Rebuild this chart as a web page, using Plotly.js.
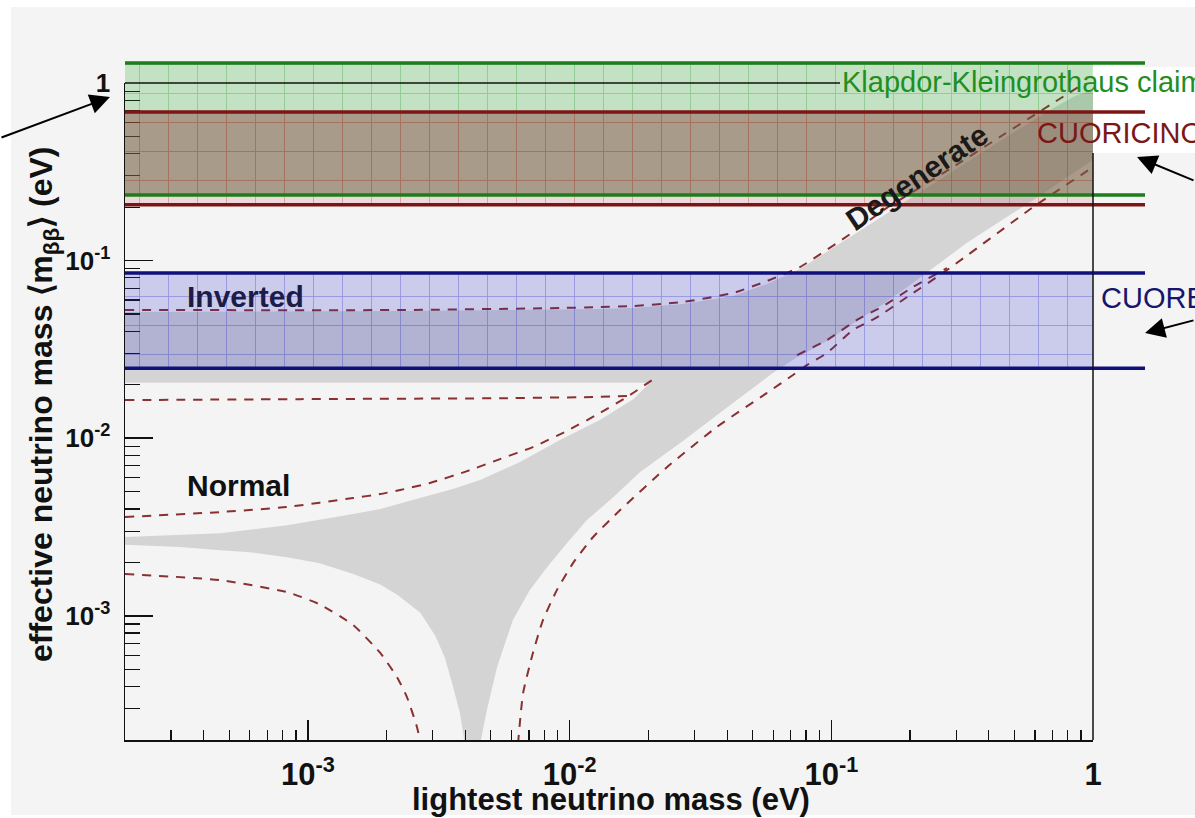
<!DOCTYPE html>
<html>
<head>
<meta charset="utf-8">
<script src="https://cdn.plot.ly/plotly-3.0.1.min.js"></script>
<style>
  html, body { margin: 0; padding: 0; background: #ffffff; }
  #chart { width: 1195px; height: 818px; }
</style>
</head>
<body>
<div id="chart"></div>
<script>
// ---------------- data (eV) ----------------
const X_MIN = 2e-4, X_MAX = 1;
const Y_MIN = 2e-4, Y_MAX = 1;

// axis ticks
const xTickVals = [1e-3, 1e-2, 1e-1, 1];
const xTickText = ['10<sup>-3</sup>', '10<sup>-2</sup>', '10<sup>-1</sup>', '1'];
const yTickVals = [1e-3, 1e-2, 1e-1, 1];
const yTickText = ['10<sup>-3</sup>', '10<sup>-2</sup>', '10<sup>-1</sup>', '1'];

// allowed region (best-fit, grey): outline of inverted + normal + degenerate
const grayX = [2.0e-4, 2.25e-3, 1.31e-2, 1.75e-2, 2.71e-2, 4.21e-2, 5.68e-2, 7.59e-2, 0.118, 0.183, 0.284, 0.441, 0.685, 0.854, 1.0,
  1.0, 0.590, 0.330, 0.205, 0.158, 0.125, 0.0963, 0.0740, 0.0598, 0.0421, 0.0271, 0.0186, 0.0147, 0.01165, 0.00977, 0.00820, 0.00705, 0.00607, 0.00528, 0.00483, 0.00455,
  0.00398, 0.00381, 0.00358, 0.00334, 0.00307, 0.00269, 0.00220, 0.00189, 0.00149, 0.00111, 8.32e-4, 6.01e-4, 4.62e-4, 3.24e-4, 2.0e-4,
  2.0e-4, 4.62e-4, 8.32e-4, 1.49e-3, 1.89e-3, 2.68e-3, 3.58e-3, 4.55e-3, 6.46e-3, 9.19e-3, 1.31e-2, 1.75e-2, 2.03e-2, 2.0e-4];
const grayY = [0.0514, 0.0520, 0.0534, 0.0541, 0.0570, 0.0632, 0.0738, 0.0897, 0.136, 0.206, 0.311, 0.471, 0.705, 0.845, 0.913,
  0.368, 0.219, 0.126, 0.0748, 0.0570, 0.0457, 0.0353, 0.0286, 0.0233, 0.0158, 0.00964, 0.00645, 0.00467, 0.00346, 0.00257, 0.00188, 0.00140, 9.47e-4, 5.14e-4, 2.95e-4, 1.9e-4,
  1.9e-4, 2.84e-4, 4.03e-4, 5.79e-4, 7.71e-4, 1.04e-3, 1.31e-3, 1.50e-3, 1.72e-3, 1.98e-3, 2.14e-3, 2.28e-3, 2.34e-3, 2.44e-3, 2.51e-3,
  2.78e-3, 2.92e-3, 3.24e-3, 3.74e-3, 3.99e-3, 4.61e-3, 5.18e-3, 5.82e-3, 7.34e-3, 9.77e-3, 1.27e-2, 1.66e-2, 2.05e-2, 2.05e-2];

// 3-sigma limits (dashed)
const invMaxX = [2.0e-4, 2.25e-3, 9.19e-3, 1.31e-2, 1.75e-2, 2.71e-2, 4.21e-2, 5.68e-2, 7.59e-2, 0.118, 0.163, 0.284, 0.441, 0.685, 1.0];
const invMaxY = [0.0527, 0.0527, 0.0541, 0.0548, 0.0555, 0.0585, 0.0657, 0.0768, 0.0920, 0.141, 0.198, 0.328, 0.497, 0.752, 1.07];

const invMinLeftX = [2.0e-4, 9.33e-4, 5.42e-3, 1.31e-2, 1.66e-2];
const invMinLeftY = [0.0164, 0.0166, 0.0168, 0.0171, 0.0173];
const invMinRightX = [0.0740, 0.0963, 0.125, 0.158, 0.205, 0.277];
const invMinRightY = [0.0294, 0.0357, 0.0463, 0.0555, 0.0710, 0.0908];

const normMaxX = [2.0e-4, 4.62e-4, 8.32e-4, 1.49e-3, 1.89e-3, 2.25e-3, 2.93e-3, 4.06e-3, 5.42e-3, 7.24e-3, 9.77e-3, 1.31e-2, 1.66e-2, 2.07e-2];
const normMaxY = [0.00360, 0.00384, 0.00410, 0.00461, 0.00485, 0.00511, 0.00560, 0.00653, 0.00763, 0.00892, 0.0110, 0.0139, 0.0171, 0.0213];

const normMinLeftX = [2.0e-4, 4.62e-4, 8.32e-4, 1.11e-3, 1.49e-3, 1.89e-3, 2.19e-3, 2.39e-3, 2.61e-3, 2.70e-3];
const normMinLeftY = [1.72e-3, 1.59e-3, 1.36e-3, 1.16e-3, 8.87e-4, 6.18e-4, 4.52e-4, 3.49e-4, 2.37e-4, 1.9e-4];

const normMinRightX = [6.35e-3, 6.64e-3, 7.24e-3, 7.91e-3, 8.95e-3, 1.03e-2, 1.23e-2, 1.56e-2, 2.36e-2, 3.66e-2, 5.68e-2, 7.14e-2, 8.07e-2, 9.63e-2, 0.121, 0.150, 0.195, 0.277, 0.590, 1.0];
const normMinRightY = [1.9e-4, 3.67e-4, 6.18e-4, 9.47e-4, 1.40e-3, 1.98e-3, 2.78e-3, 3.94e-3, 6.89e-3, 0.0116, 0.0180, 0.0227, 0.0258, 0.0302, 0.0407, 0.0481, 0.0624, 0.0885, 0.200, 0.336];

// experimental bands (eV)
const bandNames = ['Klapdor-Kleingrothaus claim', 'CUORICINO', 'CUORE'];
const bandLow  = [0.234, 0.206, 0.0248];
const bandHigh = [1.296, 0.687, 0.0851];
const bandFillXMax = 1.0;
const bandLineXMax = 1.58;

// ---------------- geometry ----------------
const W = 1195, H = 818;
const M = {l: 125, r: 45, t: 50, b: 78};
const PW = W - M.l - M.r, PH = H - M.t - M.b;
const frameRight = 1093, frameTop = 83;
const xDomTop = (frameRight - M.l) / PW;
const yDomTop = (H - M.b - frameTop) / PH;
const lx0 = Math.log10(X_MIN), lx1 = Math.log10(X_MAX);
const ly0 = Math.log10(Y_MIN), ly1 = Math.log10(Y_MAX);
const x2Top = lx0 + (lx1 - lx0) / xDomTop;
const y2Top = ly0 + (ly1 - ly0) / yDomTop;
const px = v => (v - M.l) / PW;
const py = v => (H - M.b - v) / PH;

const FONT = 'Liberation Sans, Arial, Helvetica, sans-serif';
const dashStyle = {color: '#8a3030', width: 2, dash: '9px,8px'};

const traces = [];
traces.push({x: grayX, y: grayY, type: 'scatter', mode: 'lines', fill: 'toself',
  fillcolor: '#d4d4d4', line: {width: 0, color: 'rgba(0,0,0,0)'},
  xaxis: 'x', yaxis: 'y', hoverinfo: 'skip'});
[[invMaxX, invMaxY], [invMinLeftX, invMinLeftY], [invMinRightX, invMinRightY],
 [normMaxX, normMaxY], [normMinLeftX, normMinLeftY], [normMinRightX, normMinRightY]].forEach(p => {
  traces.push({x: p[0], y: p[1], type: 'scatter', mode: 'lines', line: Object.assign({shape: 'spline', smoothing: 0.5}, dashStyle),
    xaxis: 'x', yaxis: 'y', hoverinfo: 'skip'});
});

// band fills (on the extended overlay axes so they can pass above the frame)
function bandFill(lo, hi, bg, fg) {
  return {x: [X_MIN, bandFillXMax, bandFillXMax, X_MIN, X_MIN], y: [lo, lo, hi, hi, lo],
    type: 'scatter', mode: 'lines', fill: 'toself', fillcolor: bg,
    fillpattern: {shape: '+', size: 29, solidity: 0.06, bgcolor: bg, fgcolor: fg, fgopacity: 1, fillmode: 'replace'},
    line: {width: 0, color: 'rgba(0,0,0,0)'}, xaxis: 'x2', yaxis: 'y2', hoverinfo: 'skip'};
}
const gOnlyLo = Math.max(bandLow[0], bandHigh[1]);
const ovLo = Math.max(bandLow[0], bandLow[1]);
const ovHi = Math.min(bandHigh[0], bandHigh[1]);
const rOnlyHi = Math.min(bandLow[0], bandHigh[1]);
traces.push(bandFill(gOnlyLo, bandHigh[0], 'rgba(0,150,0,0.20)', 'rgba(0,140,0,0.28)'));
traces.push(bandFill(ovLo, ovHi, 'rgba(115,92,62,0.58)', 'rgba(160,40,25,0.40)'));
traces.push(bandFill(bandLow[1], rOnlyHi, 'rgba(190,40,40,0.13)', 'rgba(170,30,20,0.3)'));
traces.push(bandFill(bandLow[2], bandHigh[2], 'rgba(40,40,200,0.20)', 'rgba(30,30,200,0.32)'));

const bandLineColors = ['#1d7d1d', '#7c1515', '#10107c'];
for (let i = 0; i < 3; i++) {
  [bandLow[i], bandHigh[i]].forEach(v => {
    traces.push({x: [X_MIN, bandLineXMax], y: [v, v], type: 'scatter', mode: 'lines',
      line: {color: bandLineColors[i], width: 3.5}, xaxis: 'x2', yaxis: 'y2', hoverinfo: 'skip'});
  });
}

const axisCommon = {
  type: 'log', showline: true, linecolor: '#111', linewidth: 1.5,
  ticks: 'inside', tickwidth: 1.5, tickcolor: '#111', tickmode: 'array',
  showgrid: false, zeroline: false
};

const layout = {
  width: W, height: H,
  margin: M,
  paper_bgcolor: '#f4f4f4', plot_bgcolor: 'rgba(0,0,0,0)',
  showlegend: false, hovermode: false,
  xaxis: Object.assign({}, axisCommon, {
    range: [lx0, lx1], domain: [0, xDomTop], anchor: 'y',
    ticklen: 20, tickvals: xTickVals, ticktext: xTickText, ticklabelstandoff: 6,
    tickfont: {family: FONT, size: 31, color: '#111', weight: 'bold'},
    minor: {ticks: 'inside', ticklen: 10, tickwidth: 1.2, tickcolor: '#111', dtick: 'D1', showgrid: false}
  }),
  yaxis: Object.assign({}, axisCommon, {
    range: [ly0, ly1], domain: [0, yDomTop], anchor: 'x',
    ticklen: 28, tickvals: yTickVals, ticktext: yTickText, ticklabelstandoff: 8,
    tickfont: {family: FONT, size: 26, color: '#111', weight: 'bold'},
    minor: {ticks: 'inside', ticklen: 15, tickwidth: 1.2, tickcolor: '#111', dtick: 'D1', showgrid: false}
  }),
  xaxis2: {type: 'log', range: [lx0, x2Top], domain: [0, 1], anchor: 'y2', visible: false, showgrid: false, zeroline: false},
  yaxis2: {type: 'log', range: [ly0, y2Top], domain: [0, 1], anchor: 'x2', visible: false, showgrid: false, zeroline: false},
  shapes: [
    // white canvas edges
    {type: 'rect', xref: 'paper', yref: 'paper', x0: px(0), x1: px(W), y0: py(0), y1: py(7), fillcolor: '#ffffff', line: {width: 0}, layer: 'below'},
    {type: 'rect', xref: 'paper', yref: 'paper', x0: px(0), x1: px(11), y0: py(0), y1: py(H), fillcolor: '#ffffff', line: {width: 0}, layer: 'below'},
    {type: 'rect', xref: 'paper', yref: 'paper', x0: px(0), x1: px(W), y0: py(815), y1: py(H), fillcolor: '#ffffff', line: {width: 0}, layer: 'below'},
    // label boxes
    {type: 'rect', xref: 'paper', yref: 'paper', x0: px(1092), x1: px(W), y0: py(153), y1: py(67), fillcolor: '#ffffff', line: {width: 0}, layer: 'below'},
    // frame (top and right)
    {type: 'line', xref: 'paper', yref: 'paper', x0: 0, x1: px(840), y0: yDomTop, y1: yDomTop, line: {color: '#111', width: 1.5}},
    {type: 'line', xref: 'paper', yref: 'paper', x0: xDomTop, x1: xDomTop, y0: 0, y1: py(153), line: {color: '#111', width: 1.5}}
  ],
  annotations: [
    {xref: 'paper', yref: 'paper', x: px(611), y: py(799), text: 'lightest neutrino mass (eV)', showarrow: false,
      xanchor: 'center', yanchor: 'middle', font: {family: FONT, size: 31, color: '#111', weight: 'bold'}},
    {xref: 'paper', yref: 'paper', x: px(43), y: py(405), text: 'effective neutrino mass \u27e8m<sub>\u03b2\u03b2</sub>\u27e9 (eV)', showarrow: false,
      textangle: -90, xanchor: 'center', yanchor: 'middle', font: {family: FONT, size: 32, color: '#111', weight: 'bold'}},
    {xref: 'paper', yref: 'paper', x: px(185), y: py(296), text: 'Inverted', showarrow: false,
      xanchor: 'left', yanchor: 'middle', font: {family: FONT, size: 30, color: '#1c1c48', weight: 'bold'}},
    {xref: 'paper', yref: 'paper', x: px(185), y: py(485), text: 'Normal', showarrow: false,
      xanchor: 'left', yanchor: 'middle', font: {family: FONT, size: 30, color: '#111', weight: 'bold'}},
    {xref: 'paper', yref: 'paper', x: px(916), y: py(177), text: 'Degenerate', showarrow: false, textangle: -34,
      xanchor: 'center', yanchor: 'middle', font: {family: FONT, size: 30, color: '#1a1a1a', weight: 'bold'}},
    {xref: 'paper', yref: 'paper', x: px(840), y: py(82), text: bandNames[0], showarrow: false,
      xanchor: 'left', yanchor: 'middle', font: {family: FONT, size: 29, color: '#1f8f1f'}},
    {xref: 'paper', yref: 'paper', x: px(1035), y: py(133), text: bandNames[1], showarrow: false,
      xanchor: 'left', yanchor: 'middle', font: {family: FONT, size: 29, color: '#7a1818'}},
    {xref: 'paper', yref: 'paper', x: px(1099), y: py(298), text: bandNames[2], showarrow: false,
      xanchor: 'left', yanchor: 'middle', font: {family: FONT, size: 29, color: '#16166e'}},
    // arrows
    {xref: 'paper', yref: 'paper', x: px(110), y: py(97), ax: -125, ay: 41, text: '', showarrow: true,
      arrowhead: 2, arrowsize: 2, arrowwidth: 2, arrowcolor: '#000', standoff: 0},
    {xref: 'paper', yref: 'paper', x: px(1137), y: py(157), ax: 70, ay: 24, text: '', showarrow: true,
      arrowhead: 2, arrowsize: 2, arrowwidth: 2, arrowcolor: '#000', standoff: 0},
    {xref: 'paper', yref: 'paper', x: px(1145), y: py(333), ax: 62, ay: -13, text: '', showarrow: true,
      arrowhead: 2, arrowsize: 2, arrowwidth: 2, arrowcolor: '#000', standoff: 0}
  ]
};

Plotly.newPlot('chart', traces, layout, {staticPlot: true, displayModeBar: false});
</script>
</body>
</html>
